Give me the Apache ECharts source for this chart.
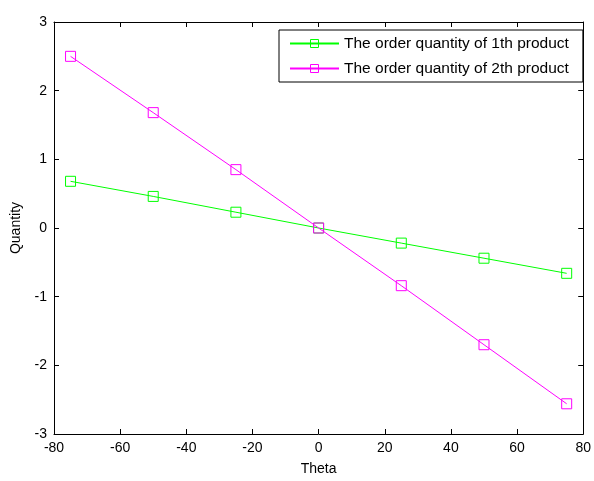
<!DOCTYPE html>
<html><head><meta charset="utf-8">
<script src="https://cdn.jsdelivr.net/npm/echarts@6/dist/echarts.min.js"></script>
<style>html,body{margin:0;padding:0;background:#fff}#c{width:594px;height:481px}</style>
</head><body><div id="c"></div>
<script>
const theta = [-75, -50, -25, 0, 25, 50, 75];
const product1 = [0.68, 0.46, 0.23, 0, -0.22, -0.44, -0.66];
const product2 = [2.50, 1.68, 0.85, 0, -0.84, -1.70, -2.56];
const seriesNames = ['The order quantity of 1th product', 'The order quantity of 2th product'];
const colors = ['#00ff00', '#ff00ff'];

const font = 'Liberation Sans, Arial, sans-serif';
const chart = echarts.init(document.getElementById('c'));
const baseAxis = {
  axisLine: {show: true, onZero: false, lineStyle: {color: '#000', width: 1}},
  axisTick: {show: true, inside: true, length: 5, lineStyle: {color: '#000'}},
  splitLine: {show: false},
  axisLabel: {color: '#000', fontSize: 14, fontFamily: font}
};
function mk(name, data, color) {
  return {
    name: name, type: 'line',
    data: theta.map((t, i) => [t, data[i]]),
    symbol: 'rect', symbolSize: 10,
    lineStyle: {color: color, width: 1},
    itemStyle: {color: 'rgba(0,0,0,0)', borderColor: color, borderWidth: 1},
    emphasis: {disabled: true},
    animation: false
  };
}
chart.setOption({
  animation: false,
  grid: {left: 54, right: 8, top: 22, bottom: 40},
  legend: {
    left: 279, top: 30,
    orient: 'vertical',
    padding: [5, 14, 5, 10],
    itemGap: 8,
    itemWidth: 49, itemHeight: 10,
    backgroundColor: '#fff', borderColor: '#000', borderWidth: 1,
    textStyle: {color: '#000', fontSize: 15.5, lineHeight: 17, fontFamily: font},
    data: seriesNames.map((n, i) => ({name: n, itemStyle: {color: 'rgba(0,0,0,0)', borderColor: colors[i], borderWidth: 1}}))
  },
  xAxis: [
    Object.assign({}, baseAxis, {type: 'value', min: -80, max: 80, interval: 20, position: 'bottom',
      name: 'Theta', nameLocation: 'middle', nameGap: 28,
      nameTextStyle: {color: '#000', fontSize: 14, fontFamily: font},
      axisLabel: Object.assign({}, baseAxis.axisLabel, {margin: 7})}),
    Object.assign({}, baseAxis, {type: 'value', min: -80, max: 80, interval: 20, position: 'top',
      axisLabel: {show: false}})
  ],
  yAxis: [
    Object.assign({}, baseAxis, {type: 'value', min: -3, max: 3, interval: 1, position: 'left',
      name: 'Quantity', nameLocation: 'middle', nameGap: 31,
      nameTextStyle: {color: '#000', fontSize: 14, fontFamily: font},
      axisLabel: Object.assign({}, baseAxis.axisLabel, {margin: 7})}),
    Object.assign({}, baseAxis, {type: 'value', min: -3, max: 3, interval: 1, position: 'right',
      axisLabel: {show: false}})
  ],
  series: [mk(seriesNames[0], product1, colors[0]), mk(seriesNames[1], product2, colors[1])]
});
</script></body></html>
